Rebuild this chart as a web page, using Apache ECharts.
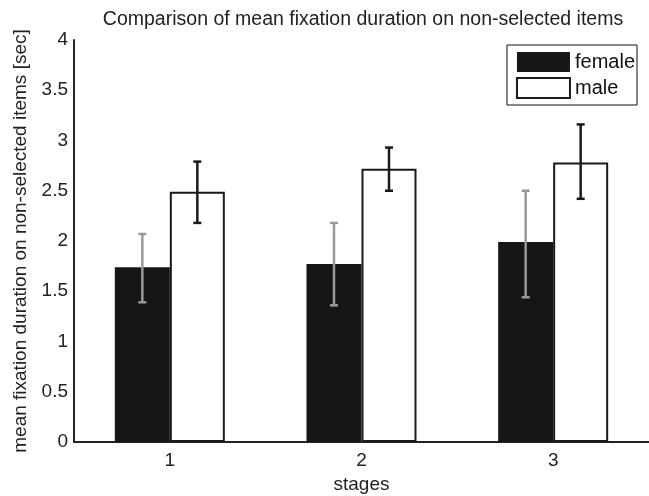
<!DOCTYPE html>
<html lang="en">
<head>
    <meta charset="UTF-8">
    <title>fixation duration</title>
    <style>
        html, body { margin: 0; padding: 0; background: #fff; }
        #main { width: 649px; height: 496px; }
    </style>
    <script src="https://cdn.jsdelivr.net/npm/echarts@6/dist/echarts.min.js"></script>
</head>
<body>
<div id="main"></div>
<script>
    // data
    var stages = ['1', '2', '3'];
    var femaleMean = [1.74, 1.77, 1.99];
    var femaleLow = [1.39, 1.36, 1.44];
    var femaleHigh = [2.07, 2.18, 2.50];
    var maleMean = [2.49, 2.72, 2.78];
    var maleLow = [2.18, 2.50, 2.42];
    var maleHigh = [2.79, 2.93, 3.16];

    var barW = 55;
    var font = 'Liberation Sans, Arial, sans-serif';

    function errBars(low, high, shift, color) {
        var rows = [];
        for (var i = 0; i < low.length; i++) rows.push([i, low[i], high[i]]);
        return {
            type: 'custom',
            data: rows,
            z: 10,
            renderItem: function (params, api) {
                var lo = api.coord([api.value(0), api.value(1)]);
                var hi = api.coord([api.value(0), api.value(2)]);
                var x = lo[0] + shift;
                var cap = 4;
                var st = { stroke: color, lineWidth: 2.5 };
                return {
                    type: 'group',
                    children: [
                        { type: 'line', shape: { x1: x, y1: lo[1], x2: x, y2: hi[1] }, style: st },
                        { type: 'line', shape: { x1: x - cap, y1: lo[1], x2: x + cap, y2: lo[1] }, style: st },
                        { type: 'line', shape: { x1: x - cap, y1: hi[1], x2: x + cap, y2: hi[1] }, style: st }
                    ]
                };
            }
        };
    }

    var myChart = echarts.init(document.getElementById('main'));
    var option = {
        animation: false,
        backgroundColor: '#fff',
        title: {
            text: 'Comparison of mean fixation duration on non-selected items',
            left: 358, textAlign: 'center', top: 5,
            textStyle: { fontFamily: font, fontSize: 19.5, fontWeight: 'normal', color: '#222' }
        },
        legend: {
            orient: 'vertical',
            right: 12, top: 45,
            padding: [7, 2, 6, 9],
            itemGap: 5,
            itemWidth: 53, itemHeight: 20,
            borderColor: '#111', borderWidth: 1,
            icon: 'rect',
            textStyle: { fontFamily: font, fontSize: 20, color: '#111' },
            data: ['female', 'male']
        },
        grid: { left: 74, right: 0, top: 40, bottom: 54, outerBoundsMode: 'none' },
        xAxis: {
            type: 'category',
            data: stages,
            name: 'stages',
            nameLocation: 'middle',
            nameGap: 33,
            nameTextStyle: { fontFamily: font, fontSize: 19, color: '#222' },
            axisLine: { lineStyle: { color: '#222', width: 2 } },
            axisTick: { show: false },
            axisLabel: { fontFamily: font, fontSize: 19, color: '#222', margin: 9 }
        },
        yAxis: {
            type: 'value',
            min: 0, max: 4, interval: 0.5,
            name: 'mean fixation duration on non-selected items [sec]',
            nameLocation: 'middle',
            nameGap: 36,
            nameTextStyle: { fontFamily: font, fontSize: 19, color: '#222' },
            axisLine: { show: true, lineStyle: { color: '#222', width: 2 } },
            axisTick: { show: false },
            splitLine: { show: false },
            axisLabel: { fontFamily: font, fontSize: 19, color: '#222', margin: 6 }
        },
        series: [
            {
                name: 'female', type: 'bar', data: femaleMean,
                barWidth: barW, barGap: '0%',
                itemStyle: { color: '#161616', borderColor: '#161616', borderWidth: 0 }
            },
            {
                name: 'male', type: 'bar', data: maleMean,
                barWidth: barW, barGap: '0%',
                itemStyle: { color: '#fff', borderColor: '#1a1a1a', borderWidth: 2 }
            },
            errBars(femaleLow, femaleHigh, -barW / 2, '#999'),
            errBars(maleLow, maleHigh, barW / 2, '#1a1a1a')
        ]
    };
    myChart.setOption(option);
</script>
</body>
</html>
